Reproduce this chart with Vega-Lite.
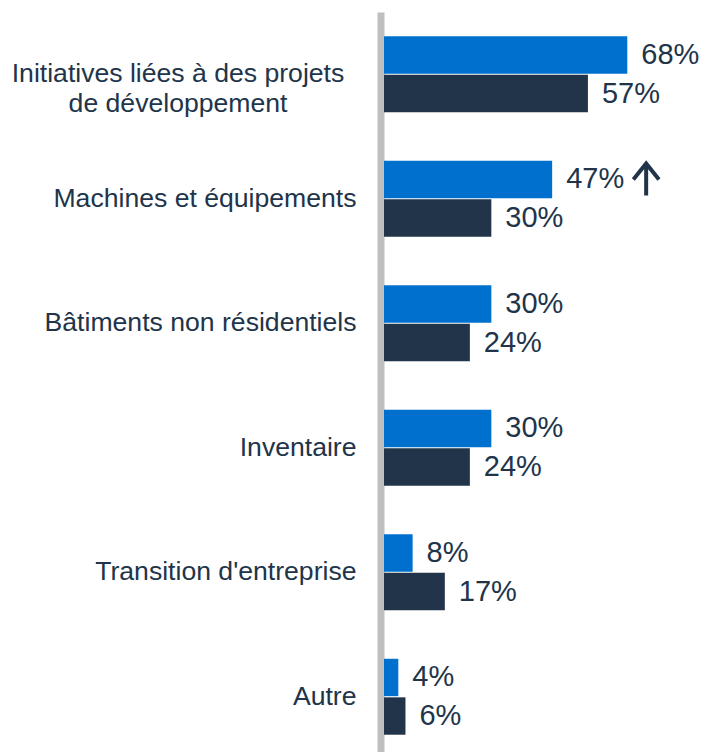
{
  "$schema": "https://vega.github.io/schema/vega-lite/v6.json",
  "width": 322,
  "height": 747,
  "autosize": {"type": "none"},
  "padding": {"left": 384, "top": 12, "right": 0, "bottom": 0},
  "background": "white",
  "config": {"view": {"stroke": null}},
  "data": {
    "values": [
      {"cat": "Initiatives liées à des projets\nde développement", "serie": "A", "value": 68, "up": false},
      {"cat": "Initiatives liées à des projets\nde développement", "serie": "B", "value": 57, "up": false},
      {"cat": "Machines et équipements", "serie": "A", "value": 47, "up": true},
      {"cat": "Machines et équipements", "serie": "B", "value": 30, "up": false},
      {"cat": "Bâtiments non résidentiels\u00a0", "serie": "A", "value": 30, "up": false},
      {"cat": "Bâtiments non résidentiels\u00a0", "serie": "B", "value": 24, "up": false},
      {"cat": "Inventaire", "serie": "A", "value": 30, "up": false},
      {"cat": "Inventaire", "serie": "B", "value": 24, "up": false},
      {"cat": "Transition d'entreprise", "serie": "A", "value": 8, "up": false},
      {"cat": "Transition d'entreprise", "serie": "B", "value": 17, "up": false},
      {"cat": "Autre", "serie": "A", "value": 4, "up": false},
      {"cat": "Autre", "serie": "B", "value": 6, "up": false}
    ]
  },
  "transform": [
    {"calculate": "datum.value + '%'", "as": "label"}
  ],
  "encoding": {
    "y": {
      "field": "cat",
      "type": "nominal",
      "sort": null,
      "scale": {"paddingInner": 0.39, "paddingOuter": 0.195},
      "axis": {
        "title": null,
        "domainColor": "#BFBFBF",
        "domainWidth": 7,
        "offset": 3.5,
        "ticks": false,
        "tickSize": 0,
        "labelFont": "Liberation Sans",
        "labelFontSize": 26.6,
        "labelColor": "#213449",
        "labelLimit": 400,
        "labelLineHeight": 30,
        "labelBaseline": "middle",
        "labelExpr": "split(datum.label, '\\n')",
        "labelAlign": {"condition": {"test": "indexof(datum.value, 'Initiatives') == 0", "value": "center"}, "value": "right"},
        "labelPadding": {"condition": {"test": "indexof(datum.value, 'Initiatives') == 0", "value": 203}, "value": 24.5}
      }
    },
    "yOffset": {"field": "serie", "type": "nominal", "scale": {"paddingInner": 0.03}},
    "x": {"field": "value", "type": "quantitative", "scale": {"domain": [0, 90]}, "axis": null}
  },
  "layer": [
    {
      "mark": {"type": "bar"},
      "encoding": {
        "color": {"field": "serie", "type": "nominal", "scale": {"domain": ["A", "B"], "range": ["#0070CE", "#213449"]}, "legend": null}
      }
    },
    {
      "mark": {"type": "text", "align": "left", "baseline": "middle", "dx": 14, "font": "Liberation Sans", "fontSize": 29, "color": "#213449"},
      "encoding": {"text": {"field": "label"}}
    },
    {
      "transform": [{"filter": "datum.up"}],
      "mark": {
        "type": "point",
        "shape": "M0,-1L0,1M-0.8,0L0,-1L0.8,0",
        "size": 1024,
        "filled": false,
        "stroke": "#213449",
        "strokeWidth": 4,
        "strokeJoin": "miter",
        "opacity": 1,
        "xOffset": 94,
        "yOffset": 1
      },
      "encoding": {}
    }
  ]
}
